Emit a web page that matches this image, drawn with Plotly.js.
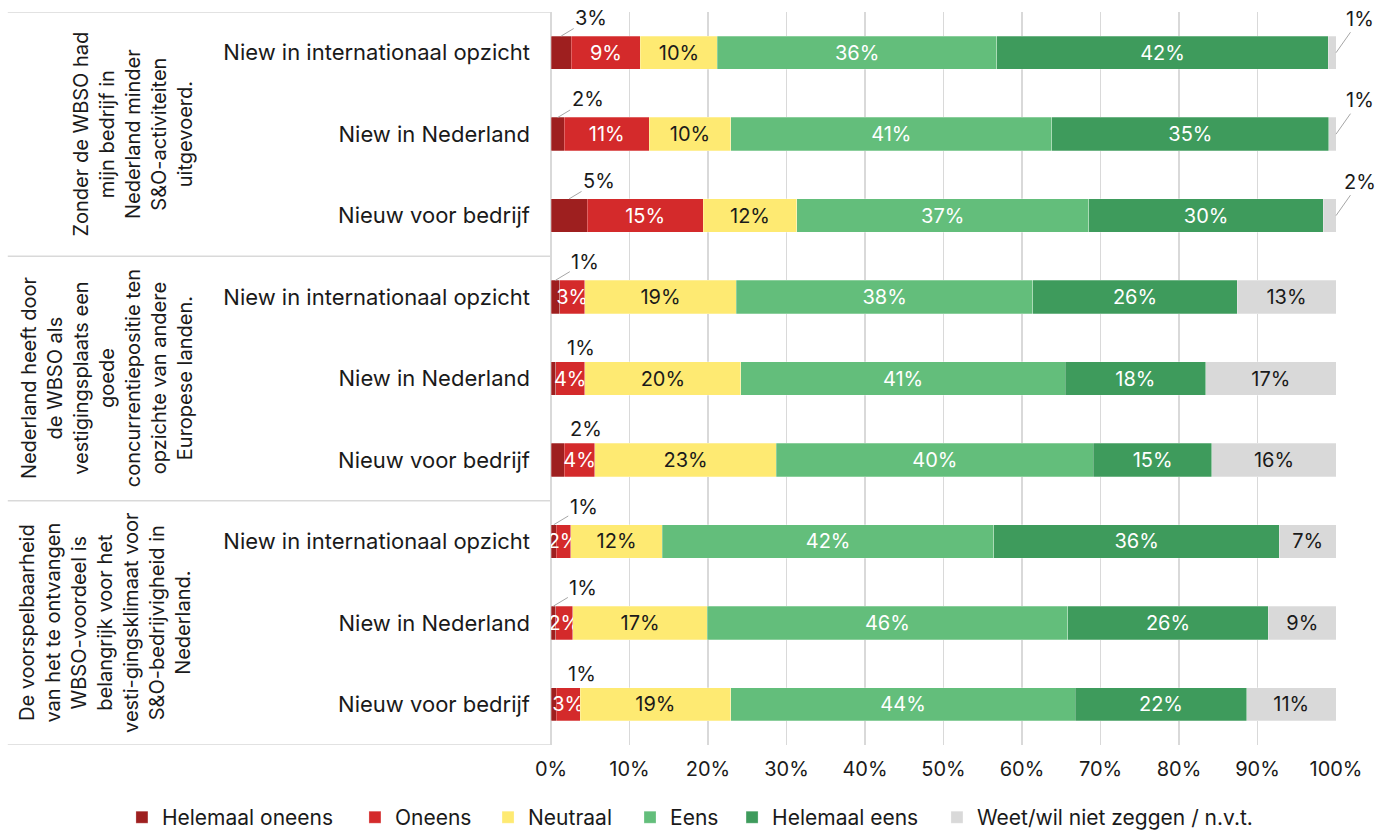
<!DOCTYPE html>
<html>
<head>
<meta charset="utf-8">
<script src="https://cdn.plot.ly/plotly-3.0.1.min.js"></script>
<style>
  html, body { margin: 0; padding: 0; background: #ffffff; }
  #chart { width: 1392px; height: 832px; }
</style>
</head>
<body>
<div id="chart"></div>
<script>
// ---------- DATA ----------
const rowLabels = [
  'Niew in internationaal opzicht', 'Niew in Nederland', 'Nieuw voor bedrijf',
  'Niew in internationaal opzicht', 'Niew in Nederland', 'Nieuw voor bedrijf',
  'Niew in internationaal opzicht', 'Niew in Nederland', 'Nieuw voor bedrijf'
];
const groupLabels = [
  'Zonder de WBSO had<br>mijn bedrijf in<br>Nederland minder<br>S&O-activiteiten<br>uitgevoerd.',
  'Nederland heeft door<br>de WBSO als<br>vestigingsplaats een<br>goede<br>concurrentiepositie ten<br>opzichte van andere<br>Europese landen.',
  'De voorspelbaarheid<br>van het te ontvangen<br>WBSO-voordeel is<br>belangrijk voor het<br>vesti-gingsklimaat voor<br>S&O-bedrijvigheid in<br>Nederland.'
];
const seriesNames = ['Helemaal oneens', 'Oneens', 'Neutraal', 'Eens', 'Helemaal eens', 'Weet/wil niet zeggen / n.v.t.'];
const helemaalOneens = [2.6, 1.7, 4.6, 1.1, 0.6, 1.7, 0.7, 0.6, 0.7];
const oneens         = [8.8, 10.8, 14.8, 3.2, 3.7, 3.9, 1.8, 2.2, 3.0];
const neutraal       = [9.8, 10.4, 11.9, 19.3, 19.9, 23.1, 11.7, 17.1, 19.2];
const eens           = [35.6, 40.9, 37.2, 37.8, 41.3, 40.4, 42.2, 45.9, 43.9];
const helemaalEens   = [42.2, 35.3, 29.9, 26.0, 17.9, 15.1, 36.4, 25.6, 21.8];
const weet           = [1.0, 0.9, 1.6, 12.6, 16.6, 15.8, 7.2, 8.6, 11.4];
const xTicks = [0, 10, 20, 30, 40, 50, 60, 70, 80, 90, 100];

// ---------- STYLE ----------
const FONT = 'Inter, Lato, sans-serif';
const FS = 20;      // value labels, group labels, x ticks
const FS_CAT = 22;  // row labels
const FS_LEG = 21;  // legend
const colors = ['#9E1F1F', '#D42A2B', '#FEEA72', '#63BE7B', '#3E9B5C', '#D9D9D9'];
const textColors = ['#ffffff', '#ffffff', '#1a1a1a', '#ffffff', '#ffffff', '#1a1a1a'];
const legendX = [0.0876, 0.2550, 0.3506, 0.4526, 0.5259, 0.6731];
const leaderLeft = [1, 1, 1, 1, 0, 0, 1, 1, 0];
const BARGAP = 0.59;
const half = (1 - BARGAP) / 2;

const rowIdx = rowLabels.map((_, i) => i);
const series = [helemaalOneens, oneens, neutraal, eens, helemaalEens, weet];
const legendId = k => (k === 0 ? 'legend' : 'legend' + (k + 1));

const traces = series.map((vals, k) => {
  let tp;
  if (k === 0) tp = vals.map(() => 'none');
  else if (k === 5) tp = vals.map(v => v >= 2 ? 'inside' : 'none');
  else tp = vals.map(() => 'inside');
  return {
    type: 'bar', orientation: 'h', name: seriesNames[k],
    x: vals, y: rowIdx, legend: legendId(k),
    marker: { color: colors[k], line: { width: 0.75, color: 'rgba(255,255,255,0.35)' } },
    texttemplate: '%{x:.0f}%',
    textposition: tp,
    insidetextanchor: 'middle',
    constraintext: 'none',
    textangle: 0,
    insidetextfont: { family: FONT, size: FS, color: textColors[k] },
    hoverinfo: 'skip'
  };
});

const annotations = [];
helemaalOneens.forEach((v, i) => {
  const base = {
    x: v / 2, y: i - half, xref: 'x', yref: 'y',
    text: Math.round(v) + '%',
    font: { family: FONT, size: FS, color: '#1a1a1a' }
  };
  if (leaderLeft[i]) {
    annotations.push(Object.assign(base, {
      showarrow: true, arrowhead: 0, arrowwidth: 1, arrowcolor: '#a6a6a6',
      ax: 30, ay: -18, standoff: 0
    }));
  } else {
    annotations.push(Object.assign(base, {
      showarrow: false, xshift: 28, yshift: 14
    }));
  }
});
weet.forEach((v, i) => {
  if (v < 2) {
    let cum = 0;
    for (let k = 0; k < 5; k++) cum += series[k][i];
    annotations.push({
      x: cum + v, y: i, xref: 'x', yref: 'y',
      text: Math.round(v) + '%',
      font: { family: FONT, size: FS, color: '#1a1a1a' },
      showarrow: true, arrowhead: 0, arrowwidth: 1, arrowcolor: '#a6a6a6',
      ax: 24, ay: -34, standoff: 0
    });
  }
});
const groupX = [-0.532, -0.566, -0.568];
groupLabels.forEach((g, j) => {
  annotations.push({
    x: groupX[j], y: j * 3 + 1, xref: 'paper', yref: 'y',
    text: g, textangle: -90, showarrow: false,
    xanchor: 'center', yanchor: 'middle', align: 'center',
    font: { family: FONT, size: FS, color: '#1a1a1a' }
  });
});

const shapes = [-0.5, 2.5, 5.5, 8.5].map(yv => ({
  type: 'line', xref: 'paper', yref: 'y',
  x0: -0.692, x1: 0, y0: yv, y1: yv,
  line: { color: '#d9d9d9', width: 1.5 }
}));

const layout = {
  width: 1392, height: 832,
  margin: { l: 551, r: 56, t: 12, b: 87 },
  barmode: 'stack',
  bargap: BARGAP,
  paper_bgcolor: '#ffffff', plot_bgcolor: '#ffffff',
  font: { family: FONT, size: FS, color: '#1a1a1a' },
  xaxis: {
    range: [0, 100], tickmode: 'array', tickvals: xTicks,
    ticktext: xTicks.map(t => t + '%'),
    showgrid: true, gridcolor: '#d9d9d9', gridwidth: 1.5,
    zeroline: true, zerolinecolor: '#d9d9d9', zerolinewidth: 1.5,
    ticks: '', ticklabelstandoff: 10, fixedrange: true,
    tickfont: { family: FONT, size: FS, color: '#1a1a1a' }
  },
  yaxis: {
    range: [8.5, -0.5], tickmode: 'array', tickvals: rowIdx, ticktext: rowLabels,
    showgrid: false, zeroline: false, ticks: '', ticklabelstandoff: 20,
    tickfont: { family: FONT, size: FS_CAT, color: '#1a1a1a' }, fixedrange: true
  },
  showlegend: true,
  annotations: annotations,
  shapes: shapes
};
seriesNames.forEach((_, k) => {
  layout[legendId(k)] = {
    orientation: 'h', xref: 'container', yref: 'container',
    x: legendX[k], xanchor: 'left', y: 0.042, yanchor: 'top',
    font: { family: FONT, size: FS_LEG, color: '#1a1a1a' },
    itemclick: false, itemdoubleclick: false,
    bgcolor: 'rgba(0,0,0,0)'
  };
});

Plotly.newPlot('chart', traces, layout, { displayModeBar: false, staticPlot: true });
</script>
</body>
</html>
